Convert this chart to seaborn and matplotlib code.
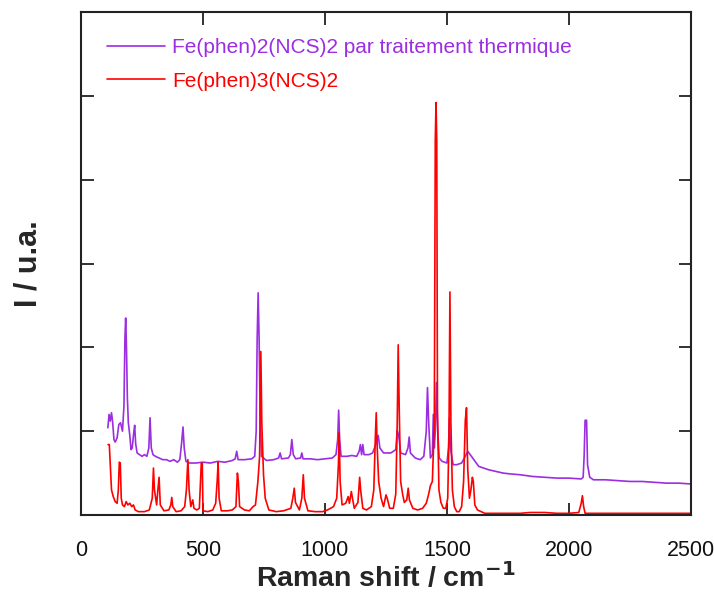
import numpy as np
import pandas as pd
import matplotlib
matplotlib.use("Agg")
import matplotlib.pyplot as plt
import seaborn as sns

# ---- data ----
series_names = ["Fe(phen)2(NCS)2 par traitement thermique", "Fe(phen)3(NCS)2"]
series_colors = ["#9B2EE0", "#FF0000"]

purple_x = [110, 115, 120, 125, 130, 135, 140, 148, 155, 162, 170, 176, 180, 183, 186, 190, 194,
            200, 205, 210, 216, 220, 224, 230, 240, 250, 260, 270, 278, 283, 288, 295, 305, 320,
            335, 350, 365, 380, 395, 405, 412, 418, 423, 430, 445, 470, 500, 530, 560, 590, 620,
            632, 638, 644, 670, 700, 712, 718, 722, 726, 730, 734, 740, 760, 790, 810, 816, 822,
            850, 858, 864, 870, 880, 900, 905, 910, 940, 970, 1000, 1030, 1045, 1052, 1056, 1060,
            1066, 1090, 1110, 1130, 1140, 1145, 1150, 1155, 1160, 1180, 1195, 1203, 1210, 1218,
            1225, 1240, 1270, 1290, 1296, 1302, 1310, 1330, 1340, 1345, 1350, 1370, 1390, 1405,
            1415, 1420, 1425, 1432, 1440, 1444, 1448, 1452, 1457, 1462, 1468, 1480, 1500, 1506,
            1510, 1514, 1525, 1540, 1560, 1575, 1585, 1595, 1610, 1630, 1650, 1670, 1700, 1730,
            1760, 1800, 1850, 1900, 1950, 2000, 2050, 2058, 2062, 2066, 2072, 2076, 2085, 2100,
            2150, 2200, 2250, 2300, 2350, 2400, 2450, 2500]
purple_y = [1.04, 1.20, 1.12, 1.22, 1.10, 0.90, 0.87, 0.92, 1.08, 1.10, 1.00, 1.30, 2.10, 2.35, 2.05, 1.40, 1.10,
            0.95, 0.78, 0.80, 0.98, 1.07, 0.85, 0.74, 0.72, 0.70, 0.72, 0.70, 0.80, 1.16, 0.80, 0.72, 0.70, 0.68,
            0.66, 0.66, 0.64, 0.66, 0.63, 0.66, 0.85, 1.05, 0.80, 0.64, 0.62, 0.62, 0.63, 0.62, 0.64, 0.63, 0.65,
            0.67, 0.76, 0.66, 0.66, 0.67, 0.70, 1.00, 2.10, 2.65, 2.10, 1.20, 0.70, 0.65, 0.66, 0.68, 0.74, 0.67,
            0.68, 0.72, 0.90, 0.72, 0.67, 0.68, 0.74, 0.67, 0.67, 0.66, 0.67, 0.68, 0.72, 0.90, 1.25, 0.90,
            0.70, 0.70, 0.71, 0.70, 0.76, 0.84, 0.72, 0.84, 0.72, 0.72, 0.74, 0.80, 0.86, 0.95,
            0.80, 0.74, 0.74, 0.78, 1.01, 0.95, 0.74, 0.72, 0.80, 0.93, 0.74, 0.68, 0.66, 0.70,
            1.00, 1.52, 1.10, 0.68, 0.72, 1.20, 0.80, 1.00, 1.58, 1.00, 0.68, 0.64, 0.62, 0.80,
            1.16, 0.80, 0.60, 0.60, 0.62, 0.70, 0.76, 0.72, 0.66, 0.58, 0.56, 0.54, 0.52, 0.50,
            0.49, 0.48, 0.46, 0.45, 0.44, 0.44, 0.43, 0.45, 0.70, 1.13, 1.13, 0.60, 0.45, 0.42,
            0.42, 0.41, 0.40, 0.40, 0.39, 0.38, 0.38, 0.37]

red_x = [111, 116, 120, 125, 132, 140, 148, 153, 157, 161, 165, 170, 178, 185, 192, 200, 208, 215,
         222, 235, 260, 280, 292, 297, 301, 310, 315, 320, 325, 340, 360, 368, 372, 376, 390, 410,
         425, 432, 438, 443, 450, 458, 463, 475, 485, 493, 497, 500, 520, 540, 552, 558, 562, 566,
         575, 600, 620, 635, 641, 645, 650, 670, 690, 705, 715, 725, 732, 737, 741, 748, 755, 770,
         800, 830, 860, 868, 874, 879, 895, 905, 911, 916, 930, 960, 990, 1010, 1035, 1048, 1055,
         1058, 1062, 1070, 1085, 1095, 1100, 1108, 1112, 1120, 1135, 1142, 1146, 1155, 1170, 1190,
         1200, 1206, 1210, 1214, 1220, 1230, 1240, 1250, 1255, 1265, 1280, 1290, 1296, 1300, 1304,
         1310, 1318, 1325, 1335, 1341, 1346, 1360, 1380, 1400, 1415, 1425, 1432, 1440, 1448, 1452,
         1455, 1458, 1461, 1467, 1475, 1485, 1495, 1503, 1508, 1512, 1516, 1522, 1530, 1540, 1550,
         1560, 1568, 1575, 1580, 1585, 1592, 1598, 1604, 1608, 1614, 1625, 1640, 1655, 1700, 1800,
         1840, 1900, 1950, 2000, 2040, 2050, 2055, 2060, 2066, 2200, 2500]
red_y = [0.84, 0.84, 0.60, 0.30, 0.22, 0.16, 0.14, 0.30, 0.63, 0.62, 0.20, 0.12, 0.10, 0.16, 0.12, 0.14, 0.10, 0.12,
         0.06, 0.04, 0.04, 0.06, 0.20, 0.56, 0.30, 0.12, 0.30, 0.45, 0.12, 0.05, 0.06, 0.12, 0.21, 0.10, 0.04, 0.05,
         0.10, 0.30, 0.66, 0.30, 0.10, 0.18, 0.08, 0.06, 0.08, 0.62, 0.62, 0.05, 0.04, 0.06, 0.14, 0.40, 0.63, 0.20,
         0.05, 0.05, 0.06, 0.10, 0.50, 0.40, 0.10, 0.06, 0.05, 0.10, 0.12, 0.40, 0.70, 1.95, 1.10, 0.48, 0.20, 0.06,
         0.04, 0.05, 0.08, 0.20, 0.32, 0.15, 0.06, 0.20, 0.48, 0.20, 0.05, 0.04, 0.04, 0.06, 0.10, 0.20, 0.60,
         0.98, 0.40, 0.12, 0.14, 0.22, 0.14, 0.28, 0.21, 0.08, 0.15, 0.45, 0.30, 0.08, 0.06, 0.10,
         0.30, 0.90, 1.22, 0.80, 0.40, 0.20, 0.10, 0.24, 0.20, 0.08, 0.08, 0.25, 1.10, 2.03, 1.30,
         0.40, 0.25, 0.15, 0.18, 0.32, 0.18, 0.08, 0.06, 0.08, 0.14, 0.25, 0.35, 0.40, 1.10, 4.47,
         4.92, 4.47, 1.20, 0.30, 0.15, 0.08, 0.08, 0.20, 0.90, 2.66, 1.10, 0.30, 0.10, 0.04, 0.04,
         0.10, 0.40, 1.13, 1.28, 0.55, 0.20, 0.30, 0.45, 0.40, 0.12, 0.06, 0.04, 0.02, 0.02, 0.02,
         0.03, 0.03, 0.02, 0.02, 0.03, 0.14, 0.23, 0.10, 0.02, 0.02, 0.02]

x_ticks = [0, 500, 1000, 1500, 2000, 2500]
y_ticks = [0, 1, 2, 3, 4, 5, 6]

# ---- build long table ----
df = pd.concat([
    pd.DataFrame({"shift": purple_x, "I": purple_y, "serie": series_names[0]}),
    pd.DataFrame({"shift": red_x, "I": red_y, "serie": series_names[1]}),
], ignore_index=True)

sns.set_style("white")
plt.rcParams["font.family"] = ["Liberation Sans", "DejaVu Sans"]

fig = plt.figure(figsize=(7.14, 5.96), dpi=100)
ax = fig.add_axes([81 / 714, 1 - 515 / 596, 610 / 714, 503 / 596])

sns.lineplot(data=df, x="shift", y="I", hue="serie", hue_order=series_names,
             palette=dict(zip(series_names, series_colors)), sort=False, estimator=None,
             linewidth=1.2, ax=ax)

ax.set_xlim(0, 2500)
ax.set_ylim(0, 6)
ax.set_xticks(x_ticks)
ax.set_xticklabels([str(t) for t in x_ticks], fontsize=15.5)
ax.set_yticks(y_ticks)
ax.set_yticklabels([])
ax.tick_params(axis="both", which="both", direction="in", length=9, width=1.3,
               top=True, right=True, bottom=True, left=True, colors="#222222", pad=18)
ax.tick_params(axis="x", labelcolor="#111111")
for sp in ax.spines.values():
    sp.set_color("#222222")
    sp.set_linewidth(1.5)

ax.set_xlabel("Raman shift / cm$^{\\mathbf{-1}}$", fontsize=20.5, fontweight="bold", labelpad=1)
ax.set_ylabel("I / u.a.", fontsize=22, fontweight="bold", labelpad=9)

leg = ax.legend(loc="upper left", bbox_to_anchor=(0.042, 0.948), frameon=False, fontsize=15,
                handlelength=2.8, handletextpad=0.35, labelspacing=0.7, borderpad=0,
                borderaxespad=0, labelcolor="linecolor")

fig.savefig("out.png", dpi=100)
